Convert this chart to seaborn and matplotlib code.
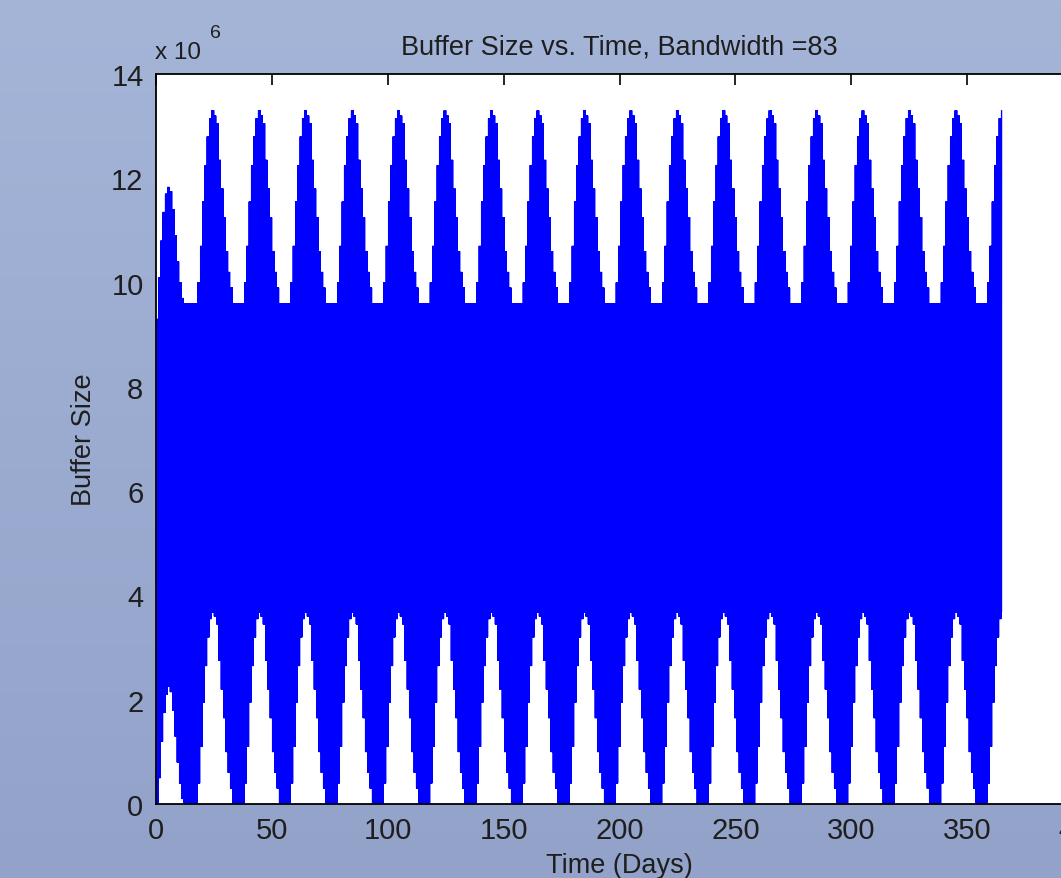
import matplotlib
matplotlib.use("Agg")
import matplotlib.pyplot as plt
import numpy as np
import seaborn as sns

# envelope of the buffer curve (units of 1e6)
# first partial cycle, one value per day, days 0..14
first_upper = [9.3, 10.1, 10.8, 11.35, 11.7, 11.83, 11.75, 11.4, 10.9, 10.4, 10.0, 9.7, 9.6, 9.6, 9.6]
first_lower = [0.0, 0.5, 1.2, 1.75, 2.1, 2.25, 2.15, 1.8, 1.3, 0.8, 0.4, 0.1, 0.0, 0.0, 0.0]

# regular cycle, day offsets -10..+9 around each peak
upper_profile = [9.6, 9.6, 9.6, 9.6, 10.0, 10.7, 11.55, 12.25, 12.8, 13.15,
                 13.3, 13.2, 13.05, 12.35, 11.8, 11.25, 10.6, 10.2, 9.9, 9.6]
lower_profile = [0.0, 0.0, 0.0, 0.0, 0.4, 1.1, 1.95, 2.65, 3.2, 3.55,
                 3.68, 3.6, 3.45, 2.75, 2.2, 1.65, 1.0, 0.6, 0.3, 0.0]

# days where the big peaks sit
peak_days = [24.5, 44.6, 64.6, 84.7, 104.7, 124.7, 144.8, 164.8, 184.9,
             204.9, 224.9, 245.0, 265.0, 285.1, 305.1, 325.1, 345.2, 365.2]

last_day = 365
samples_per_day = 16

# build the trace: swings between lower and upper envelope
t = np.arange(0, last_day * samples_per_day + 1) / samples_per_day
peaks = np.array(peak_days)
y = np.empty_like(t)
for i, ti in enumerate(t):
    d = int(ti)
    if d < len(first_upper):
        up, lo = first_upper[d], first_lower[d]
    else:
        off = int(np.round(ti - peaks[np.argmin(np.abs(ti - peaks))]))
        k = int(np.clip(off + 10, 0, len(upper_profile) - 1))
        up, lo = upper_profile[k], lower_profile[k]
    y[i] = up if i % 2 == 0 else lo

sns.set_style("white")
plt.rcParams["font.family"] = ["Liberation Sans", "DejaVu Sans"]
txt = "#1e1e1e"

fig = plt.figure(figsize=(10.61, 8.79), dpi=100)

# bluish gradient background
bg = fig.add_axes([0, 0, 1, 1], zorder=-10)
top = np.array([165, 181, 216]) / 255
bot = np.array([146, 162, 201]) / 255
grad = np.linspace(0, 1, 256)[:, None, None]
img = top * (1 - grad) + bot * grad
img = np.repeat(img, 2, axis=1)
bg.imshow(img, aspect="auto", extent=[0, 1, 0, 1])
bg.set_axis_off()

ax = fig.add_axes([156 / 1061, 74 / 879, 927 / 1061, 730 / 879])
ax.set_facecolor("white")
sns.lineplot(x=t, y=y, ax=ax, color="#0000ff", linewidth=0.5,
             estimator=None, sort=False)

ax.set_xlim(0, 400)
ax.set_ylim(0, 14)
ax.set_xticks(np.arange(0, 401, 50))
ax.set_yticks(np.arange(0, 15, 2))
ax.tick_params(direction="in", top=True, right=True, length=8, width=1.2,
               labelsize=21, pad=9, colors="black", labelcolor=txt)
for s in ax.spines.values():
    s.set_visible(True)
    s.set_color("black")
    s.set_linewidth(1.3)

ax.set_title("Buffer Size vs. Time, Bandwidth =83", fontsize=19.5, color=txt, pad=15)
ax.set_xlabel("Time (Days)", fontsize=19.5, color=txt)
ax.set_ylabel("Buffer Size", fontsize=19.5, color=txt)
ax.xaxis.set_label_coords(0.5, -0.066)
ax.yaxis.set_label_coords(-0.064, 0.5)

fig.text(155 / 1061, 1 - 59 / 879, "x 10", fontsize=17.5, color=txt, va="baseline")
fig.text(210 / 1061, 1 - 38 / 879, "6", fontsize=14, color=txt, va="baseline")

fig.savefig("out.png", dpi=100)
